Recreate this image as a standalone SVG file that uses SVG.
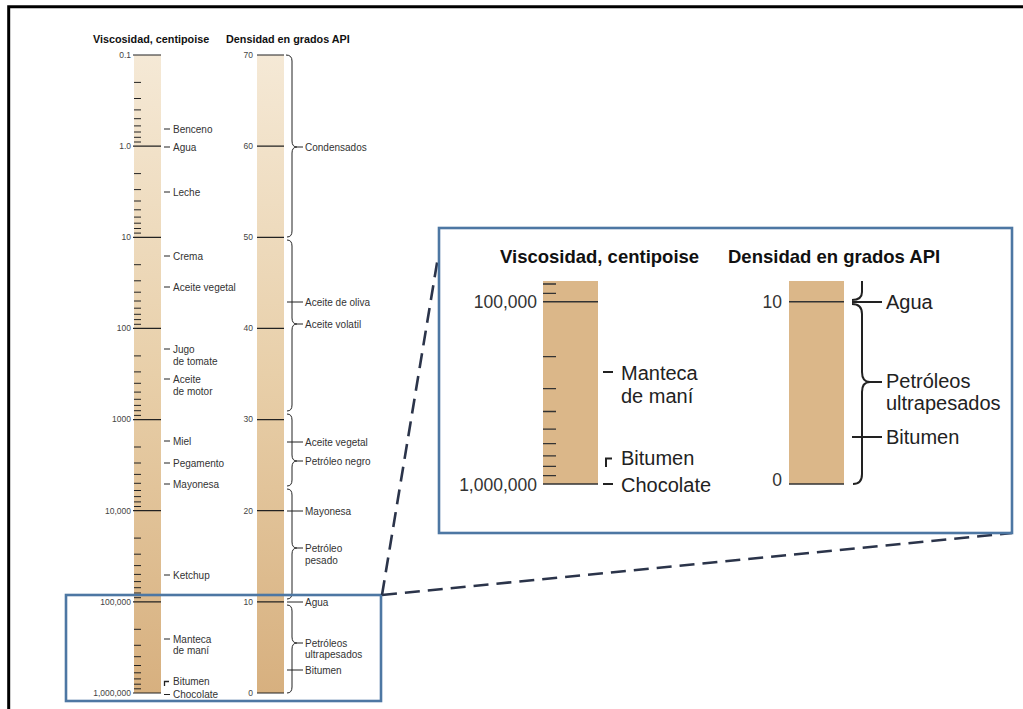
<svg xmlns="http://www.w3.org/2000/svg" width="1023" height="709" viewBox="0 0 1023 709">
<defs>
<linearGradient id="bar" x1="0" y1="0" x2="0" y2="1">
<stop offset="0" stop-color="#f5e9d6"/>
<stop offset="0.5" stop-color="#e8cfa9"/>
<stop offset="1" stop-color="#d7b07f"/>
</linearGradient>
<style>
.h{font-family:"Liberation Sans",Arial,sans-serif;font-weight:bold;fill:#111}
.t{font-family:"Liberation Sans",Arial,sans-serif;font-size:10px;fill:#333}
.n{font-family:"Liberation Sans",Arial,sans-serif;font-size:8.5px;fill:#444;text-anchor:end}
.T{font-family:"Liberation Sans",Arial,sans-serif;font-size:20px;fill:#222}
.N{font-family:"Liberation Sans",Arial,sans-serif;font-size:17.5px;fill:#333;text-anchor:end}
.maj{stroke:#222;stroke-width:1.2;fill:none}
.min{stroke:#222;stroke-width:1;fill:none}
.br{stroke:#222;stroke-width:1;fill:none}
.BR{stroke:#222;stroke-width:2;fill:none}
.MIN{stroke:#333;stroke-width:1.3;fill:none}
.MAJ{stroke:#333;stroke-width:1.4;fill:none}
.box{stroke:#4d77a3;stroke-width:2.6;fill:none}
.dash{stroke:#2b344a;stroke-width:2.6;stroke-dasharray:15 8;fill:none}
</style>
</defs>
<rect width="1023" height="709" fill="#fff"/>
<g id="frame"><path d="M8.7,709 V6.7 H1023" stroke="#000" stroke-width="3" fill="none"/></g>

<g id="headers">
<text class="h" x="93" y="43" font-size="10.8">Viscosidad, centipoise</text>
<text class="h" x="226" y="43" font-size="10.8">Densidad en grados API</text>
</g>

<g id="viscosity-scale">
<rect x="134" y="55" width="27" height="638" fill="url(#bar)"/>
<path class="maj" d="M133,55H161M133,146.1H161M133,237.3H161M133,328.4H161M133,419.6H161M133,510.7H161M133,601.8H161M133,693H161"/>
<path class="min" d="M134,82.4h7M134,98.5h7M134,109.9h7M134,118.7h7M134,125.9h7M134,132h7M134,137.3h7M134,142h7
M134,173.6h7M134,189.6h7M134,201h7M134,209.8h7M134,217.1h7M134,223.2h7M134,228.5h7M134,233.1h7
M134,264.7h7M134,280.8h7M134,292.2h7M134,301h7M134,308.2h7M134,314.3h7M134,319.6h7M134,324.3h7
M134,355.9h7M134,371.9h7M134,383.3h7M134,392.1h7M134,399.3h7M134,405.4h7M134,410.7h7M134,415.4h7
M134,447h7M134,463h7M134,474.4h7M134,483.3h7M134,490.5h7M134,496.6h7M134,501.9h7M134,506.5h7
M134,538.1h7M134,554.2h7M134,565.6h7M134,574.4h7M134,581.6h7M134,587.7h7M134,593h7M134,597.7h7
M134,629.3h7M134,645.3h7M134,656.7h7M134,665.5h7M134,672.8h7M134,678.9h7M134,684.2h7M134,688.8h7"/>
<text class="n" x="131" y="58">0.1</text>
<text class="n" x="131" y="149">1.0</text>
<text class="n" x="131" y="240">10</text>
<text class="n" x="131" y="331">100</text>
<text class="n" x="131" y="422">1000</text>
<text class="n" x="131" y="514">10,000</text>
<text class="n" x="131" y="605">100,000</text>
<text class="n" x="131" y="696">1,000,000</text>
</g>

<g id="viscosity-labels">
<path class="br" d="M164,129h6M164,147h6M164,192h6M164,256h6M164,287h6M164,349h6M164,379h6M164,441h6M164,463h6M164,484h6M164,575h6M164,639h6M164,694.5h6"/>
<path d="M164.5,686V681.5H169" stroke="#222" stroke-width="1.3" fill="none"/>
<text class="t" x="173" y="132.6">Benceno</text>
<text class="t" x="173" y="150.6">Agua</text>
<text class="t" x="173" y="195.6">Leche</text>
<text class="t" x="173" y="259.6">Crema</text>
<text class="t" x="173" y="290.6">Aceite vegetal</text>
<text class="t" x="173" y="352.6">Jugo</text>
<text class="t" x="173" y="364.6">de tomate</text>
<text class="t" x="173" y="382.6">Aceite</text>
<text class="t" x="173" y="394.6">de motor</text>
<text class="t" x="173" y="444.6">Miel</text>
<text class="t" x="173" y="466.6">Pegamento</text>
<text class="t" x="173" y="487.6">Mayonesa</text>
<text class="t" x="173" y="578.6">Ketchup</text>
<text class="t" x="173" y="642.6">Manteca</text>
<text class="t" x="173" y="653.6">de maní</text>
<text class="t" x="173" y="684.6">Bitumen</text>
<text class="t" x="173" y="698.1">Chocolate</text>
</g>

<g id="api-scale">
<rect x="257" y="55" width="27" height="638" fill="url(#bar)"/>
<path class="maj" d="M257,55H284M257,146.1H284M257,237.3H284M257,328.4H284M257,419.6H284M257,510.7H284M257,601.8H284M257,693H284"/>
<text class="n" x="253" y="58">70</text>
<text class="n" x="253" y="149">60</text>
<text class="n" x="253" y="240">50</text>
<text class="n" x="253" y="331">40</text>
<text class="n" x="253" y="422">30</text>
<text class="n" x="253" y="514">20</text>
<text class="n" x="253" y="605">10</text>
<text class="n" x="253" y="696">0</text>
</g>

<g id="api-labels">
<path class="br" d="M286,55 Q292,55 292,61 L292,141 Q292,147 297,147 Q292,147 292,153 L292,231 Q292,237 287,237"/>
<path class="br" d="M287,240 Q292,240 292,246 L292,318 Q292,324 297,324 Q292,324 292,330 L292,405 Q292,411 287,411"/>
<path class="br" d="M287,414 Q292,414 292,420 L292,455 Q292,461 297,461 Q292,461 292,467 L292,480 Q292,486 287,486"/>
<path class="br" d="M287,489 Q292,489 292,495 L292,542 Q292,548 297,548 Q292,548 292,554 L292,593 Q292,599 287,599"/>
<path class="br" d="M287,605 Q292,605 292,611 L292,637 Q292,643 297,643 Q292,643 292,649 L292,687 Q292,693 287,693"/>
<path class="br" d="M297,147h6M297,324h6M297,461h6M297,548h6M297,643h6M287,302h16M287,442h16M287,511h16M287,602h16M287,670h16"/>
<text class="t" x="305" y="150.6">Condensados</text>
<text class="t" x="305" y="305.6">Aceite de oliva</text>
<text class="t" x="305" y="327.6">Aceite volatil</text>
<text class="t" x="305" y="445.6">Aceite vegetal</text>
<text class="t" x="305" y="464.6">Petróleo negro</text>
<text class="t" x="305" y="514.6">Mayonesa</text>
<text class="t" x="305" y="551.6">Petróleo</text>
<text class="t" x="305" y="563.6">pesado</text>
<text class="t" x="305" y="605.6">Agua</text>
<text class="t" x="305" y="646.6">Petróleos</text>
<text class="t" x="305" y="657.6">ultrapesados</text>
<text class="t" x="305" y="673.6">Bitumen</text>
</g>

<g id="zoom-box"><rect class="box" x="66" y="595" width="315" height="106"/></g>

<g id="connectors">
<path class="dash" d="M382,595 L438,257"/>
<path class="dash" d="M382,595 L1012,533"/>
</g>

<g id="inset">
<rect x="439" y="228" width="573" height="305" fill="#fff" class="box"/>
<text class="h" x="500" y="263" font-size="18.5">Viscosidad, centipoise</text>
<text class="h" x="728" y="263" font-size="18.5">Densidad en grados API</text>
<rect x="543" y="281" width="55" height="203" fill="#dbb789"/>
<path class="MAJ" d="M543,301.7H598M543,484H598"/>
<path class="MIN" d="M543,284h13M543,293.4h13M543,356.6h13M543,388.7h13M543,411.5h13M543,429.1h13M543,443.6h13M543,455.8h13M543,466.3h13M543,475.6h13"/>
<text class="N" x="537" y="308">100,000</text>
<text class="N" x="537" y="490.5">1,000,000</text>
<path class="BR" d="M603,372h10M603,484h10"/>
<path d="M606,467V458.5H612" stroke="#222" stroke-width="2" fill="none"/>
<text class="T" x="621" y="379.5">Manteca</text>
<text class="T" x="621" y="402.5">de maní</text>
<text class="T" x="621" y="464.5">Bitumen</text>
<text class="T" x="621" y="491.5">Chocolate</text>
<rect x="789" y="281" width="55" height="203" fill="#dbb789"/>
<path class="MAJ" d="M789,301.7H844M789,484H844"/>
<text class="N" x="782" y="308">10</text>
<text class="N" x="782" y="486">0</text>
<path class="BR" d="M862,281 L862,292 Q862,300 852,300"/>
<path class="BR" d="M852,304 Q862,304 862,314 L862,372 Q862,382 870,382 Q862,382 862,392 L862,474 Q862,484 853,484"/>
<path class="BR" d="M852,302H882M870,382H882M852,437H882"/>
<text class="T" x="886" y="309">Agua</text>
<text class="T" x="886" y="388">Petróleos</text>
<text class="T" x="886" y="410">ultrapesados</text>
<text class="T" x="886" y="444">Bitumen</text>
</g>
</svg>
